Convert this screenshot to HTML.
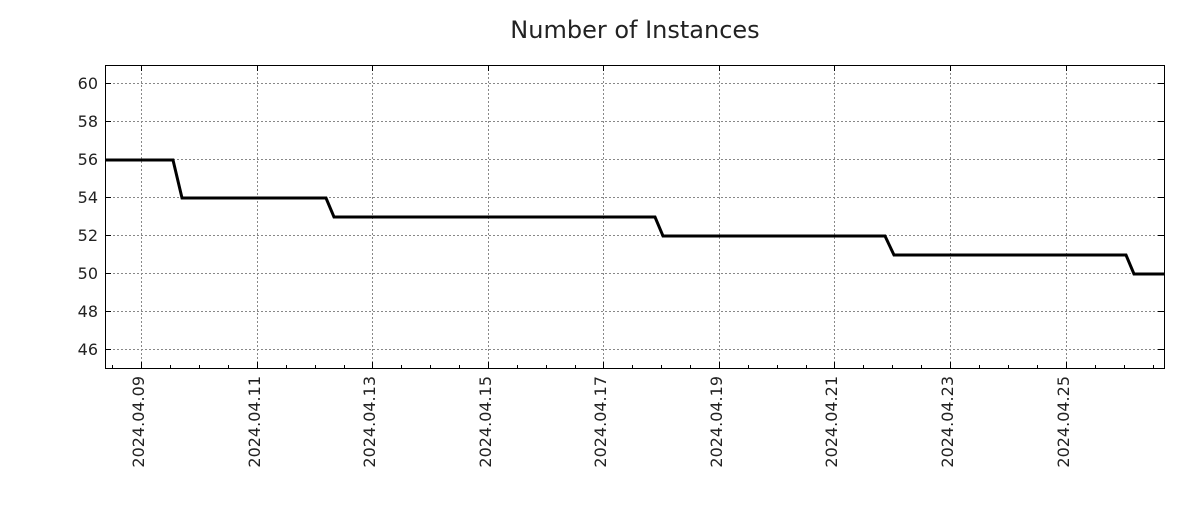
<!DOCTYPE html>
<html><head><style>body{margin:0;background:#fff}</style></head><body>
<svg width="1200" height="500" xmlns="http://www.w3.org/2000/svg" font-family="DejaVu Sans, Liberation Sans, sans-serif">
<rect width="1200" height="500" fill="#fff"/>
<text x="635" y="38" font-size="24" text-anchor="middle" fill="#222">Number of Instances</text>
<g stroke="#888" stroke-width="1" stroke-dasharray="2,2">
<line x1="105" x2="1164" y1="83.5" y2="83.5"/><line x1="105" x2="1164" y1="121.5" y2="121.5"/><line x1="105" x2="1164" y1="159.5" y2="159.5"/><line x1="105" x2="1164" y1="197.5" y2="197.5"/><line x1="105" x2="1164" y1="235.5" y2="235.5"/><line x1="105" x2="1164" y1="273.5" y2="273.5"/><line x1="105" x2="1164" y1="311.5" y2="311.5"/><line x1="105" x2="1164" y1="349.5" y2="349.5"/>
<line y1="65" y2="368" x1="141.5" x2="141.5"/><line y1="65" y2="368" x1="257.5" x2="257.5"/><line y1="65" y2="368" x1="372.5" x2="372.5"/><line y1="65" y2="368" x1="488.5" x2="488.5"/><line y1="65" y2="368" x1="603.5" x2="603.5"/><line y1="65" y2="368" x1="719.5" x2="719.5"/><line y1="65" y2="368" x1="834.5" x2="834.5"/><line y1="65" y2="368" x1="950.5" x2="950.5"/><line y1="65" y2="368" x1="1066.5" x2="1066.5"/>
</g>
<g stroke="#000" stroke-width="1">
<path d="M141.5 368v-6M257.5 368v-6M372.5 368v-6M488.5 368v-6M603.5 368v-6M719.5 368v-6M834.5 368v-6M950.5 368v-6M1066.5 368v-6M141.5 65v6M257.5 65v6M372.5 65v6M488.5 65v6M603.5 65v6M719.5 65v6M834.5 65v6M950.5 65v6M1066.5 65v6"/>
<path d="M112.5 368v-3M170.5 368v-3M199.5 368v-3M228.5 368v-3M286.5 368v-3M315.5 368v-3M344.5 368v-3M401.5 368v-3M430.5 368v-3M459.5 368v-3M517.5 368v-3M546.5 368v-3M575.5 368v-3M632.5 368v-3M661.5 368v-3M690.5 368v-3M748.5 368v-3M777.5 368v-3M806.5 368v-3M863.5 368v-3M892.5 368v-3M921.5 368v-3M979.5 368v-3M1008.5 368v-3M1037.5 368v-3M1095.5 368v-3M1124.5 368v-3M1153.5 368v-3"/>
<path d="M105 83.5h6M105 121.5h6M105 159.5h6M105 197.5h6M105 235.5h6M105 273.5h6M105 311.5h6M105 349.5h6M1164 83.5h-6M1164 121.5h-6M1164 159.5h-6M1164 197.5h-6M1164 235.5h-6M1164 273.5h-6M1164 311.5h-6M1164 349.5h-6"/>
</g>
<rect x="105.5" y="65.5" width="1059" height="303" fill="none" stroke="#000"/>
<polyline fill="none" stroke="#000" stroke-width="3" points="105,160 173,160 182,198 326,198 334,217 655,217 663,236 885,236 894,255 1126,255 1134,274 1164,274"/>
<g font-size="16" fill="#222" text-anchor="end">
<text x="98" y="89">60</text><text x="98" y="127">58</text><text x="98" y="165">56</text><text x="98" y="203">54</text><text x="98" y="241">52</text><text x="98" y="279">50</text><text x="98" y="317">48</text><text x="98" y="355">46</text>
</g>
<g font-size="16" fill="#222" text-anchor="end">
<text transform="translate(144,376) rotate(-90)">2024.04.09</text>
<text transform="translate(260,376) rotate(-90)">2024.04.11</text>
<text transform="translate(375,376) rotate(-90)">2024.04.13</text>
<text transform="translate(491,376) rotate(-90)">2024.04.15</text>
<text transform="translate(606,376) rotate(-90)">2024.04.17</text>
<text transform="translate(722,376) rotate(-90)">2024.04.19</text>
<text transform="translate(837,376) rotate(-90)">2024.04.21</text>
<text transform="translate(953,376) rotate(-90)">2024.04.23</text>
<text transform="translate(1069,376) rotate(-90)">2024.04.25</text>
</g>
</svg>
</body></html>
